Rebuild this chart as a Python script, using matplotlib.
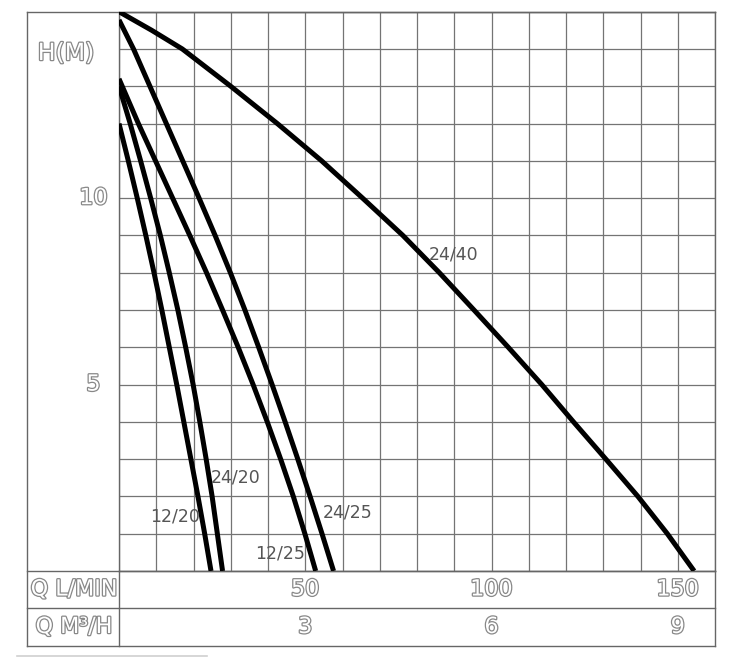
import matplotlib
matplotlib.use('Agg')
import matplotlib.pyplot as plt
import matplotlib.patheffects as pe
from matplotlib.lines import Line2D

# curvas H(m) vs Q (L/min)
h_12_20 = [12, 11, 10, 9, 8, 7, 6, 5, 4, 3, 2, 1, 0]
q_12_20 = [0, 2.5, 4.9, 7.2, 9.4, 11.5, 13.5, 15.5, 17.4, 19.3, 21.2, 23.0, 24.7]

h_24_20 = [13, 12, 11, 10, 9, 8, 7, 6, 5, 4, 3, 2, 1, 0]
q_24_20 = [0, 3.0, 5.8, 8.5, 11.1, 13.5, 15.8, 17.9, 19.9, 21.7, 23.4, 25.0, 26.4, 27.8]

h_12_25 = [13.2, 12, 11, 10, 9, 8, 7, 6, 5, 4, 3, 2, 1, 0]
q_12_25 = [0, 5.2, 9.8, 14.4, 19.0, 23.5, 27.8, 32.0, 36.0, 39.8, 43.4, 46.8, 49.9, 52.8]

h_24_25 = [14.78, 14, 13, 12, 11, 10, 9, 8, 7, 6, 5, 4, 3, 2, 1, 0]
q_24_25 = [0, 3.9, 8.3, 12.7, 17.1, 21.5, 25.8, 29.9, 33.8, 37.5, 41.1, 44.6, 48.0, 51.3, 54.5, 57.6]

h_24_40 = [15, 14.5, 14, 13, 12, 11, 10, 9, 8, 7, 6, 5, 4, 3, 2, 1, 0]
q_24_40 = [0, 8.8, 17, 30, 42.5, 54.4, 65.4, 76.2, 86.0, 95.3, 104.5, 113.5, 122, 130.7, 139.3, 147.2, 154.4]

curvas = [('12/20', q_12_20, h_12_20, 15.0, 1.45),
          ('24/20', q_24_20, h_24_20, 31.4, 2.52),
          ('12/25', q_12_25, h_12_25, 43.2, 0.46),
          ('24/25', q_24_25, h_24_25, 61.5, 1.58),
          ('24/40', q_24_40, h_24_40, 89.9, 8.5)]

h_ticks = [5, 10]
q_lmin_ticks = [50, 100, 150]
q_m3h_ticks = [3, 6, 9]

W, H = 733, 661
fig = plt.figure(figsize=(W/100, H/100), dpi=100)
fig.patch.set_facecolor('white')

# caja de la grilla en pixeles
gl, gr, gt, gb = 119.0, 715.0, 11.7, 571.0
ax = fig.add_axes([gl/W, 1-gb/H, (gr-gl)/W, (gb-gt)/H])
ax.set_xlim(0, 160)
ax.set_ylim(0, 15)
ax.set_xticks(range(0, 161, 10))
ax.set_yticks(range(0, 16))
ax.tick_params(length=0, labelbottom=False, labelleft=False)
ax.grid(True, color='#747474', linewidth=0.9)
for s in ax.spines.values():
    s.set_color('#666666')
    s.set_linewidth(1.0)

for nombre, q, h, tx, ty in curvas:
    ax.plot(q, h, color='black', linewidth=3.6, solid_capstyle='butt', zorder=3)
    ax.text(tx, ty, nombre, ha='center', va='center', fontsize=12.5, color='#555555', zorder=4)

# tabla de abajo y columna izquierda
xo = (27 - gl) / (gr - gl)
y1 = (gb - 608) / (gb - gt)
y2 = (gb - 646) / (gb - gt)
caja = dict(color='#666666', linewidth=1.0, transform=ax.transAxes, clip_on=False)
ax.plot([xo, 1], [1, 1], **caja)
ax.plot([xo, xo], [1, y2], **caja)
ax.plot([0, 0], [0, y2], **caja)
ax.plot([1, 1], [0, y2], **caja)
for yy in [0, y1, y2]:
    ax.plot([xo, 1], [yy, yy], **caja)

hueco = dict(color='white', fontsize=16, ha='center', va='center',
             path_effects=[pe.Stroke(linewidth=1.8, foreground='#888888'), pe.Normal()])

xc = (74 - gl) / (gr - gl)
for v in h_ticks:
    ax.text((93.5 - gl) / (gr - gl), v, str(v), transform=ax.get_yaxis_transform(), **hueco)
ax.text((66 - gl) / (gr - gl), (gb - 53) / (gb - gt), 'H(M)', transform=ax.transAxes,
        **{**hueco, 'fontsize': 17})

r1 = (y1 + 0) / 2
r2 = (y1 + y2) / 2
ax.text(xc, r1, 'Q L/MIN', transform=ax.transAxes, **hueco)
ax.text(xc, r2, 'Q M³/H', transform=ax.transAxes, **hueco)
for ql, qm in zip(q_lmin_ticks, q_m3h_ticks):
    ax.text(ql, r1, str(ql), transform=ax.get_xaxis_transform(), **hueco)
    ax.text(ql, r2, str(qm), transform=ax.get_xaxis_transform(), **hueco)

# raya tenue del escaneo
fig.add_artist(Line2D([17/W, 207/W], [1-656/H, 1-656/H], color='#d0d0d0', linewidth=1.2))

fig.savefig('out.png', dpi=100)
